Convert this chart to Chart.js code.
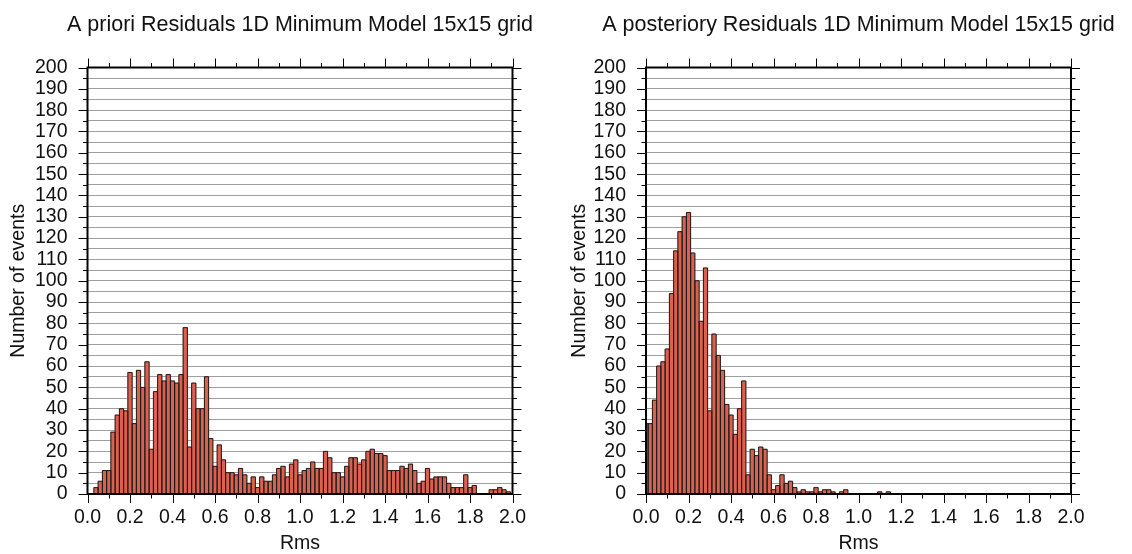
<!DOCTYPE html>
<html>
<head>
<meta charset="utf-8">
<title>Rms residual histograms</title>
<script src="https://cdn.jsdelivr.net/npm/chart.js@4.4.1/dist/chart.umd.min.js"></script>
<style>
  html, body { margin: 0; padding: 0; background: #fff; }
  #wrap { display: flex; width: 1132px; height: 554px; }
  canvas { display: block; }
</style>
</head>
<body>
<div id="wrap">
  <canvas id="apriori" width="566" height="554"></canvas>
  <canvas id="aposteriori" width="566" height="554"></canvas>
</div>
<script>
// rms bins are 0.02 wide, bin k is centred on k * 0.02 (0.0 .. 2.0)
const binWidth = 0.02

const aprioriCounts = [
  0, 0, 3, 6, 11, 11, 29, 37, 40, 39,
  57, 33, 58, 50, 62, 21, 48, 56, 53, 56,
  53, 52, 56, 78, 22, 52, 40, 40, 55, 26,
  13, 23, 16, 10, 10, 9, 12, 9, 5, 8,
  3, 8, 6, 6, 9, 12, 13, 8, 14, 16,
  9, 11, 12, 15, 12, 12, 20, 17, 10, 10,
  8, 13, 17, 17, 14, 16, 20, 21, 19, 19,
  18, 11, 11, 11, 13, 12, 14, 11, 5, 6,
  12, 7, 8, 8, 8, 5, 3, 3, 3, 9,
  3, 4, 0, 0, 0, 2, 2, 3, 2, 1,
  0
]

const aposterioriCounts = [
  33, 33, 44, 60, 62, 68, 94, 114, 123, 130,
  132, 113, 100, 81, 106, 39, 75, 65, 58, 42,
  37, 28, 40, 53, 9, 21, 18, 22, 21, 9,
  2, 4, 9, 5, 6, 3, 1, 2, 1, 1,
  3, 1, 2, 2, 1, 0, 1, 2, 0, 0,
  0, 0, 0, 0, 0, 1, 0, 1, 0, 0,
  0, 0, 0, 0, 0, 0, 0, 0, 0, 0,
  0, 0, 0, 0, 0, 0, 0, 0, 0, 0,
  0, 0, 0, 0, 0, 0, 0, 0, 0, 0,
  0, 0, 0, 0, 0, 0, 0, 0, 0, 0,
  0
]

const plotTitles = [
  'A priori Residuals 1D Minimum Model 15x15 grid',
  'A posteriory Residuals 1D Minimum Model 15x15 grid'
]
const xTitle = 'Rms'
const yTitle = 'Number of events'

const FONT = '"Liberation Sans", Arial, Helvetica, sans-serif'
const INK = '#111'

// 1px outline round every bar, shared between neighbours
const barOutline = {
    id: 'barOutline',
    afterDatasetsDraw(chart) {
        const { ctx, chartArea: a } = chart
        const bars = chart.getDatasetMeta(0).data
        ctx.save()
        ctx.beginPath()
        ctx.rect(a.left, a.top, a.right - a.left, a.bottom - a.top)
        ctx.clip()
        ctx.strokeStyle = '#1c1c1c'
        ctx.lineWidth = 1
        ctx.beginPath()
        bars.forEach(b => {
            if (b.base - b.y < 0.5) return
            const l = b.x - b.width / 2, r = b.x + b.width / 2
            ctx.moveTo(l, b.base); ctx.lineTo(l, b.y); ctx.lineTo(r, b.y); ctx.lineTo(r, b.base)
        })
        ctx.stroke()
        ctx.restore()
    }
}

// thick frame plus outward ticks on all four sides
const frameTicks = {
    id: 'frameTicks',
    afterDraw(chart) {
        const { ctx, chartArea: a, scales: { x, y } } = chart
        ctx.save()
        ctx.strokeStyle = '#000'
        ctx.lineWidth = 1
        ctx.beginPath()
        for (let i = 0; i <= 20; i++) {
            const px = Math.round(x.getPixelForValue(i / 10)) + 0.5
            const len = i % 2 === 0 ? 9 : 4.5
            ctx.moveTo(px, a.bottom); ctx.lineTo(px, a.bottom + len)
            ctx.moveTo(px, a.top); ctx.lineTo(px, a.top - len)
        }
        for (let i = 0; i <= 40; i++) {
            const py = Math.round(y.getPixelForValue(i * 5)) + 0.5
            const len = i % 2 === 0 ? 9 : 4.5
            ctx.moveTo(a.left, py); ctx.lineTo(a.left - len, py)
            ctx.moveTo(a.right, py); ctx.lineTo(a.right + len, py)
        }
        ctx.stroke()
        ctx.lineWidth = 2
        ctx.strokeRect(a.left, a.top, a.right - a.left, a.bottom - a.top)
        ctx.restore()
    }
}

// title centred over the plot frame, drawn at its natural width
const plotTitle = {
    id: 'plotTitle',
    afterDraw(chart, args, opts) {
        const { ctx, chartArea: a } = chart
        ctx.save()
        ctx.font = `21.5px ${FONT}`
        ctx.fillStyle = INK
        ctx.textAlign = 'center'
        ctx.textBaseline = 'alphabetic'
        ctx.fillText(opts.text, (a.left + a.right) / 2, 31)
        ctx.restore()
    }
}

function makeHistogram(id, title, counts, g) {
    return new Chart(document.getElementById(id), {
        type: 'bar',
        data: {
            datasets: [{
                data: counts.map((c, k) => ({ x: +(k * binWidth).toFixed(2), y: c })),
                backgroundColor: 'rgb(219,97,78)',
                borderWidth: 0,
                barPercentage: 1,
                categoryPercentage: 1
            }]
        },
        options: {
            responsive: false,
            animation: false,
            layout: { padding: { left: 0, right: g.padRight, top: 67.5, bottom: 0 } },
            plugins: {
                legend: { display: false },
                tooltip: { enabled: false },
                title: { display: false },
                plotTitle: { text: title }
            },
            scales: {
                x: {
                    type: 'linear',
                    min: 0,
                    max: 2,
                    offset: false,
                    grid: { display: false, drawTicks: false, offset: false },
                    border: { display: false },
                    ticks: {
                        stepSize: 0.2,
                        padding: 12,
                        maxRotation: 0,
                        autoSkip: false,
                        color: INK,
                        font: { family: FONT, size: 19.5 },
                        callback: v => v.toFixed(1)
                    },
                    title: {
                        display: true,
                        text: xTitle,
                        color: INK,
                        font: { family: FONT, size: 19.5 },
                        padding: { top: 0, bottom: -1 }
                    },
                    afterFit: s => { s.height = 60 }
                },
                y: {
                    min: 0,
                    max: 200,
                    grid: { color: '#a0a0a0', lineWidth: 1, drawTicks: false },
                    border: { display: false },
                    ticks: {
                        stepSize: 5,
                        autoSkip: false,
                        padding: 20,
                        color: INK,
                        font: { family: FONT, size: 19.5 },
                        callback: v => (v % 10 === 0 ? v : '')
                    },
                    title: {
                        display: true,
                        text: yTitle,
                        color: INK,
                        font: { family: FONT, size: 19.5 },
                        padding: { top: g.yTitlePad, bottom: 0 }
                    },
                    afterFit: s => { s.width = g.yWidth }
                }
            }
        },
        plugins: [barOutline, frameTicks, plotTitle]
    })
}

makeHistogram('apriori', plotTitles[0], aprioriCounts, { yWidth: 87.5, padRight: 53.5, yTitlePad: 6.8 })
makeHistogram('aposteriori', plotTitles[1], aposterioriCounts, { yWidth: 80, padRight: 61, yTitlePad: 1.5 })
</script>
</body>
</html>
